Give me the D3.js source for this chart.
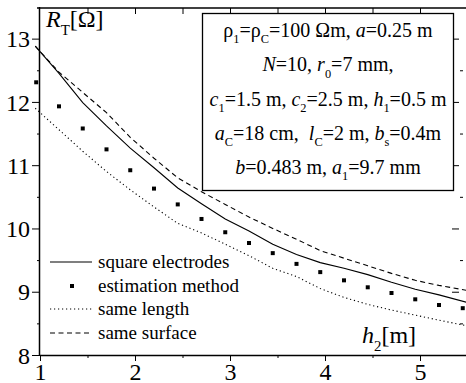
<!DOCTYPE html>
<html>
<head>
<meta charset="utf-8">
<script src="https://cdn.jsdelivr.net/npm/d3@7/dist/d3.min.js"></script>
<style>
  body { margin: 0; background: #fff; }
</style>
</head>
<body>
<svg id="chart" width="466" height="383"></svg>
<script>
// h2 grid for the computed curves
const h2 = [0.95, 1.2, 1.45, 1.7, 1.95, 2.2, 2.45, 2.7, 2.95, 3.2, 3.45, 3.7, 3.95, 4.2, 4.45, 4.7, 4.95, 5.2, 5.5];
const squareElectrodes = [12.88, 12.45, 11.99, 11.62, 11.27, 10.96, 10.64, 10.39, 10.15, 9.96, 9.75, 9.59, 9.46, 9.37, 9.27, 9.15, 9.04, 8.95, 8.83];
const sameLength = [11.90, 11.56, 11.22, 10.90, 10.61, 10.34, 10.08, 9.93, 9.75, 9.57, 9.37, 9.24, 9.05, 8.91, 8.80, 8.71, 8.63, 8.55, 8.46];
const sameSurface = [12.88, 12.47, 12.15, 11.83, 11.44, 11.11, 10.80, 10.58, 10.38, 10.18, 10.00, 9.83, 9.65, 9.53, 9.41, 9.29, 9.18, 9.10, 9.02];

// estimation method points
const estH = [0.96, 1.2, 1.45, 1.7, 1.95, 2.2, 2.45, 2.7, 2.95, 3.2, 3.45, 3.7, 3.95, 4.2, 4.45, 4.7, 4.95, 5.2, 5.45];
const estR = [12.31, 11.93, 11.58, 11.25, 10.92, 10.63, 10.38, 10.15, 9.94, 9.77, 9.61, 9.44, 9.31, 9.18, 9.07, 8.98, 8.88, 8.79, 8.74];

const xTicks = [1, 2, 3, 4, 5];
const yTicks = [8, 9, 10, 11, 12, 13];
const legendLabels = ["square electrodes", "estimation method", "same length", "same surface"];

// parameter box, [text, style]  i = italic, s = subscript
const boxLines = [
  [["ρ", ""], ["1", "s"], ["=ρ", ""], ["C", "s"], ["=100 Ωm, ", ""], ["a", "i"], ["=0.25 m", ""]],
  [["N", "i"], ["=10, ", ""], ["r", "i"], ["0", "s"], ["=7 mm,", ""]],
  [["c", "i"], ["1", "s"], ["=1.5 m, ", ""], ["c", "i"], ["2", "s"], ["=2.5 m, ", ""], ["h", "i"], ["1", "s"], ["=0.5 m", ""]],
  [["a", "i"], ["C", "s"], ["=18 cm,  ", ""], ["l", "i"], ["C", "s"], ["=2 m, ", ""], ["b", "i"], ["s", "s"], ["=0.4m", ""]],
  [["b", "i"], ["=0.483 m, ", ""], ["a", "i"], ["1", "s"], ["=9.7 mm", ""]]
];

const FONT = '"Liberation Serif"';
const svg = d3.select("#chart");
const x = d3.scaleLinear().domain([1, 5.5]).range([40, 467.5]);
const y = d3.scaleLinear().domain([8, 13.5]).range([355, 7]);

function rich(textSel, parts, size) {
  let shifted = false;
  textSel.style("font-family", FONT);
  parts.forEach(([t, st]) => {
    const ts = textSel.append("tspan").text(t).style("font-family", FONT);
    if (st.includes("i")) ts.style("font-style", "italic");
    if (st.includes("s")) {
      ts.style("font-size", (size * 0.62) + "px");
      if (!shifted) { ts.attr("dy", size * 0.32); shifted = true; }
    } else if (shifted) {
      ts.attr("dy", -size * 0.32); shifted = false;
    }
  });
}

// axes
const tickFmt = d3.format("d");
svg.append("g").attr("transform", "translate(0,355)")
  .call(d3.axisBottom(x).tickValues(d3.range(1, 5.51, 0.5)).tickSize(3).tickFormat(""))
  .call(g => g.select(".domain").remove());
const xAxis = svg.append("g").attr("transform", "translate(0,355)")
  .call(d3.axisBottom(x).tickValues(xTicks).tickSize(6).tickFormat(tickFmt).tickPadding(3));
xAxis.select(".domain").attr("d", "M40,0.5H467").attr("stroke-width", 1.5);
xAxis.selectAll("text").style("font-family", FONT).style("font-size", "24px").attr("dy", "0.66em");

svg.append("g").attr("transform", "translate(40,0)")
  .call(d3.axisLeft(y).tickValues(d3.range(8.5, 13.5, 1)).tickSize(3).tickFormat(""))
  .call(g => g.select(".domain").remove());
const yAxis = svg.append("g").attr("transform", "translate(40,0)")
  .call(d3.axisLeft(y).tickValues(yTicks).tickSize(8).tickFormat(tickFmt).tickPadding(2));
yAxis.select(".domain").attr("d", "M-0.5,7V355").attr("stroke-width", 1.5);
yAxis.selectAll("text").style("font-family", FONT).style("font-size", "24px").attr("dy", "0.34em");

// top mirror axis, inward ticks
const topAxis = svg.append("g").attr("transform", "translate(0,8)")
  .call(d3.axisTop(x).tickValues(d3.range(1.5, 5.51, 0.5)).tickSize(-6).tickFormat(""));
topAxis.select(".domain").attr("d", "M37,0H467").attr("stroke-width", 1.5);

// right mirror ticks
svg.append("g").attr("transform", "translate(452,0)")
  .call(d3.axisRight(y).tickValues(yTicks.slice(1)).tickSize(7).tickFormat(""))
  .call(g => g.select(".domain").remove());
svg.append("g").attr("transform", "translate(460,0)")
  .call(d3.axisRight(y).tickValues(d3.range(8.5, 13.5, 1)).tickSize(3).tickFormat(""))
  .call(g => g.select(".domain").remove());

// curves
const line = d3.line().x(d => x(d[0])).y(d => y(d[1]));
const series = [
  { vals: squareElectrodes, dash: null },
  { vals: sameLength, dash: "1.2,2.8" },
  { vals: sameSurface, dash: "5,3.5" }
];
series.forEach(s => {
  svg.append("path")
    .datum(h2.map((h, i) => [h, s.vals[i]]))
    .attr("d", line)
    .attr("fill", "none")
    .attr("stroke", "#000")
    .attr("stroke-width", 1.1)
    .attr("stroke-dasharray", s.dash);
});

svg.append("g").selectAll("rect")
  .data(estH.map((h, i) => [h, estR[i]]))
  .join("rect")
  .attr("x", d => x(d[0]) - 2)
  .attr("y", d => y(d[1]) - 2)
  .attr("width", 4)
  .attr("height", 4)
  .attr("fill", "#000");

// parameter box
svg.append("rect")
  .attr("x", 202.5).attr("y", 13.5).attr("width", 251).attr("height", 177)
  .attr("fill", "#fff").attr("stroke", "#000").attr("stroke-width", 1.3);
boxLines.forEach((parts, i) => {
  const t = svg.append("text")
    .attr("x", 328).attr("y", 37 + i * 34.25)
    .attr("text-anchor", "middle")
    .style("font-size", "20px")
    .style("white-space", "pre");
  rich(t, parts, 20);
});

// axis titles
rich(svg.append("text").attr("x", 46).attr("y", 27).style("font-size", "24px"),
  [["R", "i"], ["T", "s"], ["[Ω]", ""]], 24);
rich(svg.append("text").attr("x", 362).attr("y", 343).style("font-size", "24px"),
  [["h", "i"], ["2", "s"], ["[m]", ""]], 24);

// legend
const legendY = [262, 286, 309, 333];
const lg = svg.append("g");
legendLabels.forEach((lab, i) => {
  if (i === 1) {
    lg.append("rect").attr("x", 70).attr("y", legendY[i] - 2).attr("width", 4).attr("height", 4).attr("fill", "#000");
  } else {
    const dash = i === 0 ? null : (i === 2 ? "1.2,2.8" : "5,3.5");
    lg.append("line").attr("x1", 50).attr("x2", 92).attr("y1", legendY[i]).attr("y2", legendY[i])
      .attr("stroke", "#000").attr("stroke-width", 1.1).attr("stroke-dasharray", dash);
  }
  lg.append("text").attr("x", 98).attr("y", legendY[i] + 6)
    .style("font-size", "19px").style("font-family", FONT).text(lab);
});
</script>
</body>
</html>
